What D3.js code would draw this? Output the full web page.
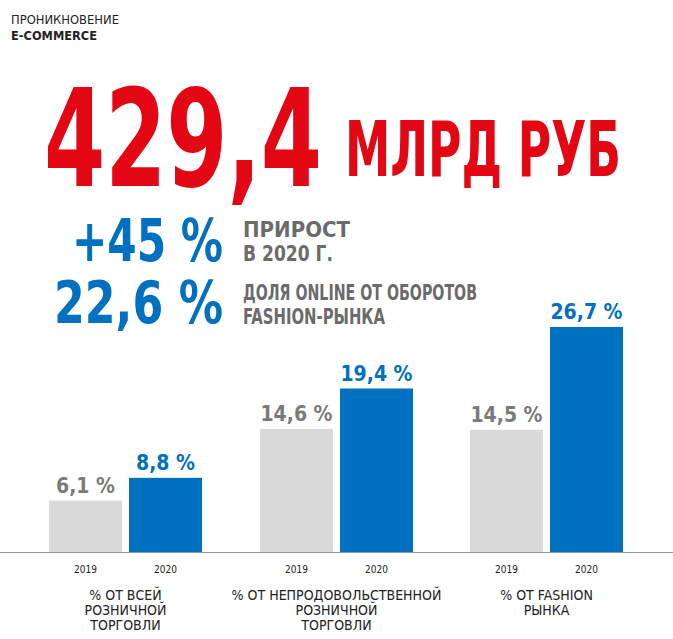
<!DOCTYPE html>
<html><head><meta charset="utf-8">
<script src="https://cdn.jsdelivr.net/npm/d3@7"></script>
<style>body{margin:0;background:#fff}text{font-family:"DejaVu Sans Condensed","DejaVu Sans",sans-serif}</style>
</head><body><div id="root"></div>
<script>
const categories = [['% ОТ ВСЕЙ', 'РОЗНИЧНОЙ', 'ТОРГОВЛИ'], ['% ОТ НЕПРОДОВОЛЬСТВЕННОЙ', 'РОЗНИЧНОЙ', 'ТОРГОВЛИ'], ['% ОТ FASHION', 'РЫНКА']]
const years = ['2019', '2020']
const values2019 = [6.1, 14.6, 14.5]
const values2020 = [8.8, 19.4, 26.7]

const width = 673, height = 639
const svg = d3.select('#root').append('svg').attr('width', width).attr('height', height)
const red = '#e30613', blue = '#0070c0', grey = '#d9d9d9'

// headline texts
function txt(x, y, s, size, color, weight, len) {
  const t = svg.append('text').attr('x', x).attr('y', y).text(s)
    .attr('font-size', size).attr('fill', color).attr('font-weight', weight)
  if (len) t.attr('textLength', len).attr('lengthAdjust', 'spacingAndGlyphs')
  return t
}
txt(11, 24, 'ПРОНИКНОВЕНИЕ', 13, '#222', 'normal', 108)
txt(11, 40, 'E-COMMERCE', 13, '#222', 'bold', 86)
txt(44, 186, '429,4', 136, red, 'bold', 278)
txt(345, 176, 'МЛРД РУБ', 76, red, 'bold', 276)
txt(72, 261, '+45 %', 58, blue, 'bold', 151)
txt(54, 323, '22,6 %', 58, blue, 'bold', 169)
txt(243, 237, 'ПРИРОСТ', 22, '#6b6b6b', 'bold', 107)
txt(243, 261, 'В 2020 Г.', 22, '#6b6b6b', 'bold', 90)
txt(243, 300, 'ДОЛЯ ONLINE ОТ ОБОРОТОВ', 22, '#6b6b6b', 'bold', 234)
txt(243, 324, 'FASHION-РЫНКА', 22, '#6b6b6b', 'bold', 142)

// chart
const baseY = 552
const x0 = d3.scaleBand().domain(d3.range(categories.length)).range([20, 653]).paddingInner(0.1)
const y = d3.scaleLinear().domain([0, 26.7]).range([baseY, 327])
const groupStarts = [49, 260, 470]
const bw = 73, gap = 7

const data = []
values2019.forEach((v, i) => {
  data.push({ g: i, yr: 0, v })
  data.push({ g: i, yr: 1, v: values2020[i] })
})
const bx = d => groupStarts[d.g] + d.yr * (bw + gap)

svg.selectAll('rect.bar').data(data).enter().append('rect')
  .attr('x', bx).attr('y', d => y(d.v)).attr('width', bw)
  .attr('height', d => baseY - y(d.v)).attr('fill', d => d.yr ? blue : grey)

svg.selectAll('text.val').data(data).enter().append('text')
  .attr('x', d => bx(d) + bw / 2).attr('y', d => y(d.v) - 8)
  .attr('text-anchor', 'middle').attr('font-size', 21).attr('font-weight', 'bold')
  .attr('fill', d => d.yr ? blue : '#7a7a7a')
  .text(d => d3.format('.1f')(d.v).replace('.', ',') + ' %')

svg.append('line').attr('x1', 0).attr('x2', width).attr('y1', baseY + 0.5).attr('y2', baseY + 0.5)
  .attr('stroke', '#999')

svg.selectAll('text.yr').data(data).enter().append('text')
  .attr('x', d => bx(d) + bw / 2).attr('y', 573).attr('text-anchor', 'middle')
  .attr('font-size', 10).attr('fill', '#222').text(d => years[d.yr])

categories.forEach((lines, i) => {
  const cx = groupStarts[i] + bw + gap / 2
  lines.forEach((l, j) => {
    svg.append('text').attr('x', cx).attr('y', 600 + j * 15).attr('text-anchor', 'middle')
      .attr('font-size', 14).attr('fill', '#222').text(l)
  })
})
</script></body></html>
